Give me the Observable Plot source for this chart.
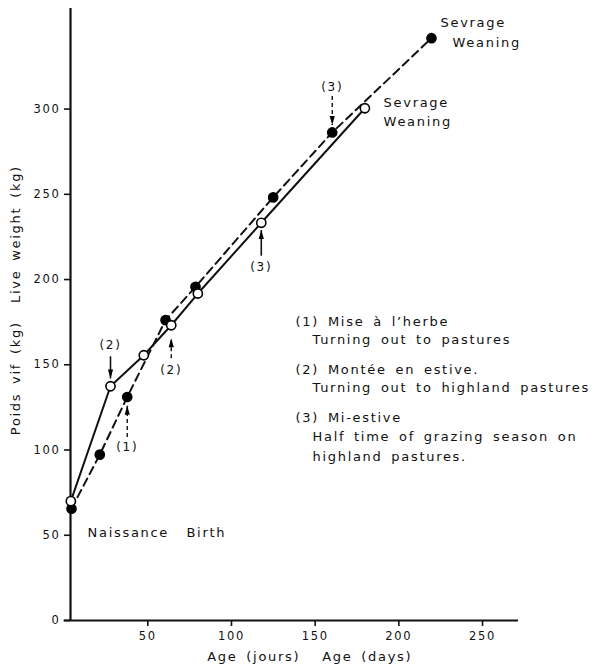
<!DOCTYPE html>
<html>
<head>
<meta charset="utf-8">
<script src="https://cdn.jsdelivr.net/npm/d3@7"></script>
<script src="https://cdn.jsdelivr.net/npm/@observablehq/plot@0.6"></script>
<style>
  html, body { margin: 0; padding: 0; background: #fff; }
  #chart svg { display: block; }
</style>
</head>
<body>
<div id="chart"></div>
<script>
// Solid line, open circles
const ageOpen = [4, 27.7, 47.6, 64, 79.9, 117.8, 179.7];
const weightOpen = [70, 137.4, 155.6, 173.2, 191.8, 233.3, 300.5];
// Dashed line, filled circles
const ageFilled = [4.4, 21.3, 37.7, 60.6, 78.5, 124.9, 160.2, 219.5];
const weightFilled = [65.6, 97.3, 131.1, 176.2, 195.7, 248.2, 286.3, 341.6];

const xTicks = [50, 100, 150, 200, 250];
const yTicks = [0, 50, 100, 150, 200, 250, 300];

// Event arrows
const annotAge = [27.7, 37.7, 64, 117.8, 160.2];
const annotLabel = ["(2)", "(1)", "(2)", "(3)", "(3)"];
const annotLabelWeight = [161.5, 101.8, 146.8, 207.3, 313];
const arrowFrom = [155, 107.6, 153.8, 214, 307.7];
const arrowTo = [142, 126, 165.6, 229, 290.7];
const arrowDashed = [false, true, true, false, true];

// Free text labels
const noteText = ["Sevrage", "Weaning", "Sevrage", "Weaning",
  "(1) Mise à l’herbe", "Turning out to pastures",
  "(2) Montée en estive.", "Turning out to highland pastures",
  "(3) Mi-estive", "Half time of grazing season on", "highland pastures.",
  "Naissance", "Birth"];
const noteAge = [224.9, 232.1, 190.9, 190.9, 138.3, 148.4, 138.3, 148.4, 138.3, 148.4, 148.4, 14, 73.1];
const noteWeight = [350.6, 338.8, 303.6, 292.4, 175, 164.4, 146.8, 136.2, 118.6, 107.5, 96.3, 51.7, 51.7];

const yTitles = ["Live weight (kg)", "Poids vif (kg)"];
const yTitleWeight = [226.7, 142.1];
const xTitles = ["Age (jours)", "Age (days)"];
const xTitleAge = [85.5, 154.2];

const openData = ageOpen.map((a, i) => ({age: a, w: weightOpen[i]}));
const filledData = ageFilled.map((a, i) => ({age: a, w: weightFilled[i]}));
const annot = annotAge.map((a, i) => ({age: a, label: annotLabel[i], ly: annotLabelWeight[i],
  from: arrowFrom[i], to: arrowTo[i], dashed: arrowDashed[i], up: arrowTo[i] > arrowFrom[i]}));
const notes = noteText.map((t, i) => ({t, age: noteAge[i], w: noteWeight[i]}));

const triUp = {draw(ctx) { ctx.moveTo(0, 0); ctx.lineTo(-2.6, 9); ctx.lineTo(2.6, 9); ctx.closePath(); }};
const triDown = {draw(ctx) { ctx.moveTo(0, 0); ctx.lineTo(-2.6, -9); ctx.lineTo(2.6, -9); ctx.closePath(); }};

const FONT = "'DejaVu Sans', sans-serif";

const chart = Plot.plot({
  width: 600,
  height: 670,
  marginLeft: 70,
  marginRight: 82,
  marginTop: 8,
  marginBottom: 50,
  style: {fontFamily: FONT, fontSize: "13px", letterSpacing: "1.7px", wordSpacing: "3px", color: "#111", background: "#fff", overflow: "visible"},
  x: {domain: [3.8, 271.5]},
  y: {domain: [0, 359]},
  marks: [
    Plot.axisX({ticks: xTicks, tickSize: 6, tickPadding: 5, label: null, fontSize: 11.5, strokeWidth: 1.6}),
    Plot.axisY({ticks: yTicks, tickSize: 6, tickPadding: 4, label: null, fontSize: 11.5, strokeWidth: 1.6}),
    Plot.ruleX([3.8], {strokeWidth: 2.2}),
    Plot.ruleY([0], {x1: 0, x2: 271.5, strokeWidth: 2, clip: false}),
    // lines
    Plot.line(filledData, {x: "age", y: "w", strokeWidth: 2, strokeDasharray: "8,5"}),
    Plot.line(openData, {x: "age", y: "w", strokeWidth: 2}),
    Plot.dot(filledData, {x: "age", y: "w", r: 4.6, fill: "#000", stroke: "#000"}),
    Plot.dot(openData, {x: "age", y: "w", r: 4.6, fill: "#fff", stroke: "#000", strokeWidth: 1.6}),
    // arrows
    Plot.link(annot.filter(d => d.dashed), {x1: "age", x2: "age", y1: "from", y2: "to", strokeWidth: 1.4, strokeDasharray: "4,3"}),
    Plot.link(annot.filter(d => !d.dashed), {x1: "age", x2: "age", y1: "from", y2: "to", strokeWidth: 1.6}),
    Plot.dot(annot.filter(d => d.up), {x: "age", y: "to", symbol: triUp, fill: "#000", stroke: "none"}),
    Plot.dot(annot.filter(d => !d.up), {x: "age", y: "to", symbol: triDown, fill: "#000", stroke: "none"}),
    Plot.text(annot, {x: "age", y: "ly", text: "label", fontSize: 12}),
    // notes
    Plot.text(notes, {x: "age", y: "w", text: "t", textAnchor: "start", fontSize: 13}),
    // axis titles
    Plot.text(yTitles, {y: yTitleWeight, text: d => d, frameAnchor: "left", dx: -55, rotate: -90, textAnchor: "middle", fontSize: 13}),
    Plot.text(xTitles, {x: xTitleAge, text: d => d, frameAnchor: "bottom", dy: 40, textAnchor: "start", fontSize: 13})
  ]
});
document.getElementById("chart").append(chart);
</script>
</body>
</html>
